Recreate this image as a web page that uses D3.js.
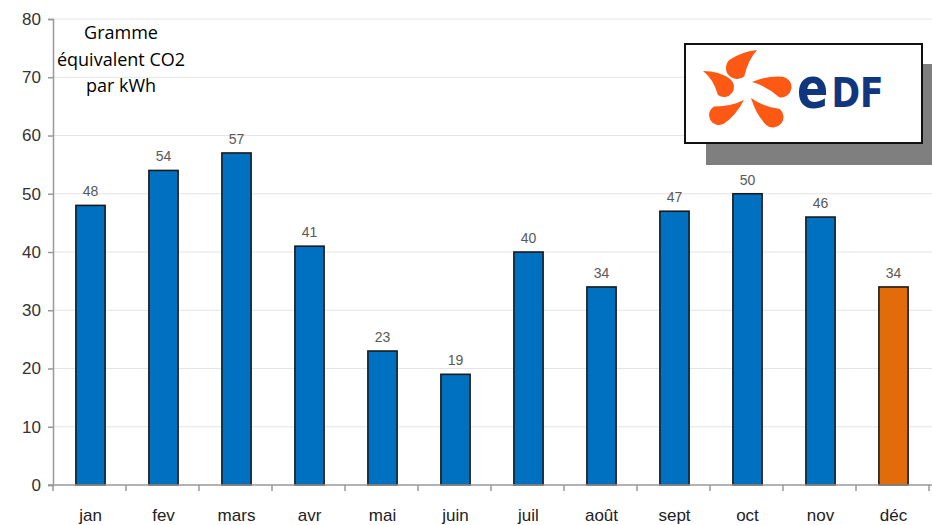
<!DOCTYPE html>
<html lang="fr">
<head>
<meta charset="UTF-8">
<title>EDF - g CO2 par kWh</title>
<script src="https://d3js.org/d3.v7.min.js"></script>
<style>
  body { margin: 0; background: #fff; }
  svg { display: block; }
</style>
</head>
<body>
<svg width="932" height="525"></svg>
<script>
// données
const mois = ["jan", "fev", "mars", "avr", "mai", "juin", "juil", "août", "sept", "oct", "nov", "déc"];
const valeurs = [48, 54, 57, 41, 23, 19, 40, 34, 47, 50, 46, 34];
const yTicks = [0, 10, 20, 30, 40, 50, 60, 70, 80];
const titre = ["Gramme", "équivalent CO2", "par kWh"];

const svg = d3.select("svg");
const mLeft = 53, mRight = 929, mTop = 19, mBottom = 485;

const x = d3.scaleBand().domain(mois).range([mLeft, mRight]).paddingInner(0.6).paddingOuter(0.3);
const y = d3.scaleLinear().domain([0, 80]).range([mBottom, mTop]);

// grille
svg.append("g").selectAll("line")
  .data(yTicks.filter(d => d > 0))
  .enter().append("line")
  .attr("x1", mLeft).attr("x2", 932)
  .attr("y1", d => y(d)).attr("y2", d => y(d))
  .attr("stroke", "#e4e4e4").attr("stroke-width", 1);

// axe Y
const yAxis = svg.append("g")
  .attr("transform", `translate(${mLeft},0)`)
  .call(d3.axisLeft(y).tickValues(yTicks).tickSize(5).tickPadding(7));
yAxis.select(".domain").attr("stroke", "#999").attr("stroke-width", 1.5);
yAxis.selectAll(".tick line").attr("stroke", "#999").attr("stroke-width", 1.5);
yAxis.selectAll("text")
  .attr("font-family", "Liberation Sans, Arial, sans-serif")
  .attr("font-size", 17).attr("fill", "#333");

// barres
svg.append("g").selectAll("rect")
  .data(valeurs)
  .enter().append("rect")
  .attr("x", (d, i) => x(mois[i]) + 1)
  .attr("y", d => y(d))
  .attr("width", x.bandwidth())
  .attr("height", d => y(0) - y(d))
  .attr("fill", (d, i) => i === 11 ? "#e36c0a" : "#0070c0")
  .attr("stroke", "#1a1a1a").attr("stroke-width", 1.6);

// étiquettes de valeurs
svg.append("g").selectAll("text")
  .data(valeurs)
  .enter().append("text")
  .attr("x", (d, i) => x(mois[i]) + x.bandwidth() / 2 + 1)
  .attr("y", d => y(d) - 9)
  .attr("text-anchor", "middle")
  .attr("font-family", "Liberation Sans, Arial, sans-serif")
  .attr("font-size", 14).attr("fill", "#595959")
  .text(d => d);

// axe X
const step = x.step();
const xAxis = svg.append("g").attr("transform", `translate(0,${mBottom})`);
xAxis.append("line").attr("x1", mLeft - 5).attr("x2", 932)
  .attr("stroke", "#999").attr("stroke-width", 1.5);
xAxis.selectAll(".sep")
  .data(d3.range(mois.length + 1))
  .enter().append("line")
  .attr("x1", i => mLeft + i * step).attr("x2", i => mLeft + i * step)
  .attr("y1", 0).attr("y2", 6)
  .attr("stroke", "#999").attr("stroke-width", 1.5);
xAxis.selectAll("text")
  .data(mois)
  .enter().append("text")
  .attr("x", d => x(d) + x.bandwidth() / 2 + 1)
  .attr("y", 36)
  .attr("text-anchor", "middle")
  .attr("font-family", "Liberation Sans, Arial, sans-serif")
  .attr("font-size", 17).attr("fill", "#222")
  .text(d => d);

// titre de l'axe
svg.append("g").selectAll("text")
  .data(titre)
  .enter().append("text")
  .attr("x", 121)
  .attr("y", (d, i) => 39 + i * 26.5)
  .attr("text-anchor", "middle")
  .attr("font-family", "Open Sans, Noto Sans, sans-serif")
  .attr("font-size", 18).attr("fill", "#000")
  .text(d => d);

// logo EDF
const logo = svg.append("g");
logo.append("rect").attr("x", 706).attr("y", 64).attr("width", 230).attr("height", 101).attr("fill", "#7f7f7f");
logo.append("rect").attr("x", 685).attr("y", 44).attr("width", 237).attr("height", 99)
  .attr("fill", "#fff").attr("stroke", "#111").attr("stroke-width", 2);

// pétales : pointe, centre du bout arrondi, rayon, courbure
const petales = [
  [[757, 50], [737, 68], 11, 4],
  [[703, 71], [724, 87], 10, -5],
  [[752, 82], [781, 87], 10.5, -4],
  [[744, 100], [719, 115], 10, -4],
  [[751, 98], [773, 117], 10.5, 4]
];
function goutte([t, c, r, b]) {
  const dx = c[0] - t[0], dy = c[1] - t[1];
  const L = Math.hypot(dx, dy);
  const nx = -dy / L, ny = dx / L;
  const p1 = [c[0] + nx * r, c[1] + ny * r];
  const p2 = [c[0] - nx * r, c[1] - ny * r];
  const q1 = [(t[0] + p1[0]) / 2 + nx * b, (t[1] + p1[1]) / 2 + ny * b];
  const q2 = [(t[0] + p2[0]) / 2 + nx * b, (t[1] + p2[1]) / 2 + ny * b];
  return `M${t}Q${q1} ${p1}A${r},${r} 0 0 0 ${p2}Q${q2} ${t}Z`;
}
logo.selectAll("path.petale")
  .data(petales)
  .enter().append("path")
  .attr("class", "petale")
  .attr("d", goutte)
  .attr("fill", "#fe5815");

const mot = logo.append("g")
  .attr("transform", "translate(797,107) scale(0.84,1)")
  .attr("font-family", "DejaVu Sans, sans-serif")
  .attr("font-weight", "bold").attr("fill", "#10367f");
mot.append("text").attr("x", 0).attr("y", 0).attr("font-size", 55).text("e");
mot.append("text").attr("x", 41).attr("y", 0).attr("font-size", 41).text("DF");
</script>
</body>
</html>
